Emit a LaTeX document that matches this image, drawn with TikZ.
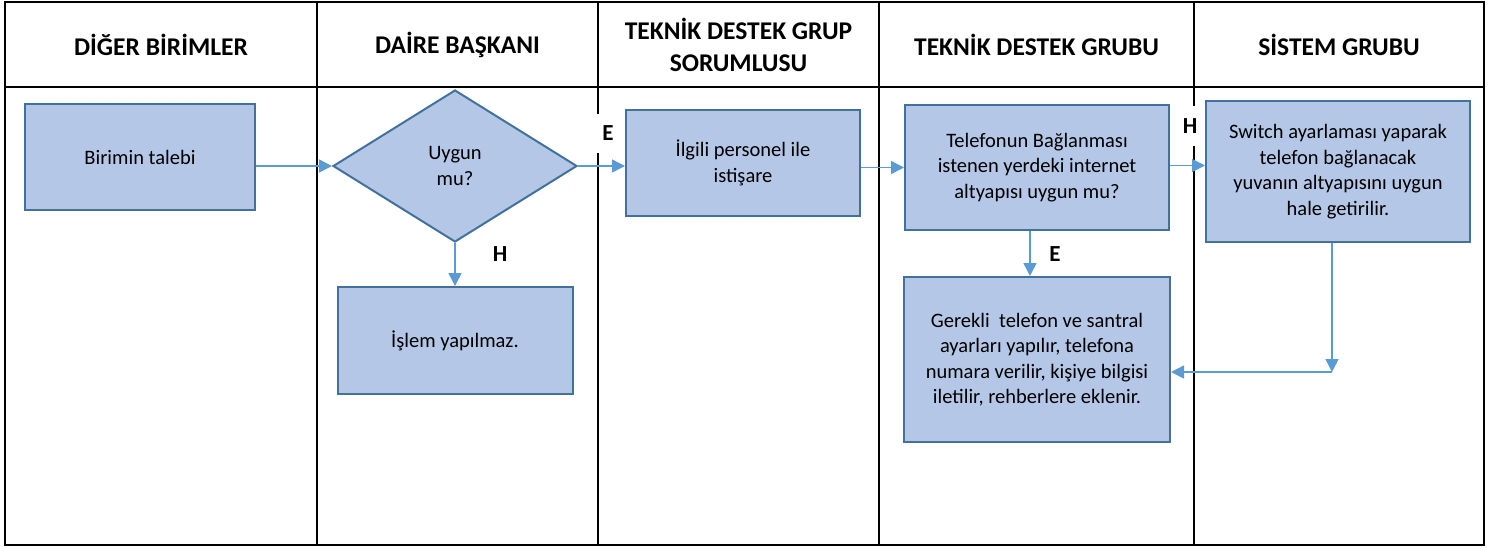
\documentclass[tikz,border=0pt]{standalone}
\usepackage{fontspec}
\setmainfont{Carlito}
\usetikzlibrary{shapes.geometric,arrows.meta,positioning}
\definecolor{boxfill}{HTML}{B4C7E7}
\definecolor{boxline}{HTML}{41719C}
\definecolor{flowline}{HTML}{5B9BD5}
\tikzset{>={Triangle[length=13pt,width=13pt]}, font=\fontsize{20.5}{25.5}\selectfont}
\tikzstyle{block} = [draw=boxline, fill=boxfill, line width=2pt, rectangle, align=center, inner sep=0pt]
\tikzstyle{decision} = [draw=boxline, fill=boxfill, line width=2pt, diamond, align=center, inner sep=0pt, minimum width=244pt, minimum height=152pt]
\tikzstyle{lane} = [font=\fontsize{25.5}{32.5}\selectfont\bfseries, align=center]
\tikzstyle{answer} = [fill=white, font=\fontsize{23}{23}\selectfont\bfseries, inner sep=0pt]
\tikzstyle{flow} = [draw=flowline, line width=1.5pt, ->]
\tikzstyle{grid} = [line width=2.5pt, black]

\begin{document}
\begin{tikzpicture}[x=1pt, y=-1pt]
    \useasboundingbox (0,0) rectangle (1500,547);

    % swimlane table
    \draw [grid] (5,2) rectangle (1484,545);
    \draw [grid] (5,87) -- (1484,87);
    \foreach \lx in {317,598,879,1194}
        \draw [grid] (\lx,2) -- (\lx,545);

    \node [lane] (h1) at (161,45) {DİĞER BİRİMLER};
    \node [lane] (h2) at (457.5,45) {DAİRE BAŞKANI};
    \node [lane] (h3) at (738.5,45) {TEKNİK DESTEK GRUP\\SORUMLUSU};
    \node [lane] (h4) at (1036.5,45) {TEKNİK DESTEK GRUBU};
    \node [lane] (h5) at (1339,45) {SİSTEM GRUBU};

    % steps
    \node [block, minimum width=230pt, minimum height=106pt] (talebi) at (140,157) {Birimin talebi};
    \node [decision] (uygun) at (455,166) {Uygun\\mu?};
    \node [block, minimum width=235pt, minimum height=107pt, below=43pt of uygun] (islem) {İşlem yapılmaz.};
    \node [block, minimum width=234pt, minimum height=106pt] (ilgili) at (743,163) {İlgili personel ile\\istişare};
    \node [block, minimum width=264pt, minimum height=125pt] (telefon) at (1037,167.5) {Telefonun Bağlanması\\istenen yerdeki internet\\altyapısı uygun mu?};
    \node [block, minimum width=264pt, minimum height=141pt] (sistem) at (1338,171.5) {Switch ayarlaması yaparak\\telefon bağlanacak\\yuvanın altyapısını uygun\\hale getirilir.};
    \node [block, minimum width=266pt, minimum height=165pt, below=45pt of telefon] (gerekli) {Gerekli\ \ telefon ve santral\\ayarları yapılır, telefona\\numara verilir, kişiye bilgisi\\iletilir, rehberlere eklenir.};

    % yes / no labels
    \node [answer, minimum width=28pt, minimum height=39pt] (e1) at (608,133) {E};
    \node [answer] (h6) at (500,254) {H};
    \node [answer, minimum width=22pt, minimum height=40pt] (h7) at (1190,126) {H};
    \node [answer] (e2) at (1055,254) {E};

    \coordinate (turn) at (1332,372);

    \draw [flow] (talebi.east |- uygun.west) -- (uygun.west);
    \draw [flow] (uygun.east) -- (uygun.east -| ilgili.west);
    \draw [flow] (uygun.south) -- (islem.north);
    \draw [flow] (ilgili.east |- telefon.west) -- (telefon.west);
    \draw [flow] ([yshift=2pt]telefon.east) -- ([yshift=2pt]telefon.east -| sistem.west);
    \draw [flow] ([xshift=-7pt]telefon.south) -- ([xshift=-7pt]gerekli.north);
    \draw [flow] (sistem.south -| turn) -- (turn);
    \draw [flow] (turn) -- (gerekli.east |- turn);
\end{tikzpicture}
\end{document}
